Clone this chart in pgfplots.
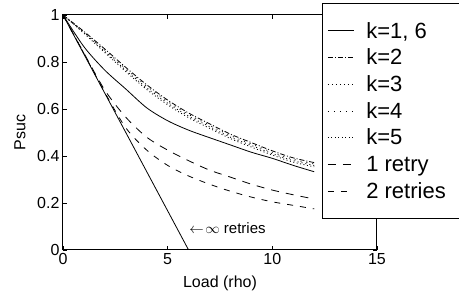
\documentclass[border=0pt]{standalone}
\usepackage{pgfplots}
\usepackage{pgfplotstable}
\pgfplotsset{compat=1.18}
\usepackage{fontspec}
\setmainfont{Liberation Sans}

\pgfplotstableread{
x   k1    k2    k3    k4    k5    r1    r2
0   1     1     1     1     1     1     1
1   0.865 0.930 0.925 0.927 0.922 0.838 0.836
2   0.765 0.855 0.845 0.850 0.840 0.680 0.670
3   0.685 0.777 0.765 0.771 0.759 0.565 0.520
4   0.605 0.703 0.690 0.697 0.683 0.480 0.425
5   0.550 0.638 0.625 0.632 0.618 0.425 0.360
6   0.510 0.583 0.570 0.577 0.563 0.380 0.315
7   0.478 0.537 0.525 0.531 0.518 0.340 0.280
8   0.447 0.493 0.480 0.487 0.474 0.310 0.250
9   0.416 0.457 0.445 0.451 0.438 0.280 0.225
10  0.390 0.422 0.410 0.416 0.404 0.255 0.205
11  0.360 0.392 0.380 0.386 0.374 0.235 0.190
12  0.333 0.372 0.360 0.366 0.354 0.217 0.175
}\datatable

\pgfplotstableread{
x y
0 1
6 0
}\inftable

\begin{document}
\begin{tikzpicture}
\useasboundingbox (0,0) rectangle (459pt,295pt);
\begin{axis}[
  at={(63pt,45pt)}, anchor=south west,
  scale only axis, width=314pt, height=235pt,
  xmin=0, xmax=15, ymin=0, ymax=1,
  xtick={0,5,10,15}, xticklabels={0,5,10,15},
  ytick={0,0.2,0.4,0.6,0.8,1}, yticklabels={0,0.2,0.4,0.6,0.8,1},
  tick align=inside, major tick length=4pt,
  tick style={line width=0.8pt, black},
  ticklabel style={font=\fontsize{16}{16}\selectfont},
  every axis plot/.append style={line width=0.8pt, black},
  axis line style={line width=1pt},
  xlabel={Load (rho)}, ylabel={Psuc},
  label style={font=\fontsize{16}{16}\selectfont},
  xlabel style={at={(axis description cs:0.5,-0.14)}, anchor=center},
  ylabel style={at={(axis description cs:-0.137,0.5)}, anchor=center},
  legend style={at={(axis description cs:0.825,1.051)}, anchor=north west,
    font=\fontsize{22}{26}\selectfont, draw=black, line width=1pt,
    inner xsep=5pt, inner ysep=14pt, row sep=0pt,
    nodes={inner sep=0pt, minimum height=26.7pt},
    /tikz/every odd column/.append style={column sep=12pt}},
  legend cell align=left,
  legend image code/.code={\draw[#1, line width=0.8pt] (0pt,0pt) -- (26pt,0pt);},
]
\addplot[solid, smooth] table[x=x, y=k1] {\datatable};
\addlegendentry{\makebox[100pt][l]{k=1, 6}}
\addplot[dash pattern=on 5pt off 2pt on 1pt off 2pt, smooth] table[x=x, y=k2] {\datatable};
\addlegendentry{\makebox[100pt][l]{k=2}}
\addplot[dash pattern=on 1pt off 3pt, smooth] table[x=x, y=k3] {\datatable};
\addlegendentry{\makebox[100pt][l]{k=3}}
\addplot[dash pattern=on 1pt off 5pt, smooth] table[x=x, y=k4] {\datatable};
\addlegendentry{\makebox[100pt][l]{k=4}}
\addplot[dash pattern=on 1pt off 2.5pt, smooth] table[x=x, y=k5] {\datatable};
\addlegendentry{\makebox[100pt][l]{k=5}}
\addplot[dash pattern=on 8pt off 7pt, smooth] table[x=x, y=r1] {\datatable};
\addlegendentry{\makebox[100pt][l]{1 retry}}
\addplot[dash pattern=on 6pt off 7pt, smooth] table[x=x, y=r2] {\datatable};
\addlegendentry{\makebox[100pt][l]{2 retries}}
\addplot[solid, forget plot] table[x=x, y=y] {\inftable};
\node[anchor=west, inner sep=0pt, font=\fontsize{15}{15}\selectfont] at (axis cs:6.03,0.094) {$\leftarrow\!\infty$ retries};
\end{axis}
\end{tikzpicture}
\end{document}
